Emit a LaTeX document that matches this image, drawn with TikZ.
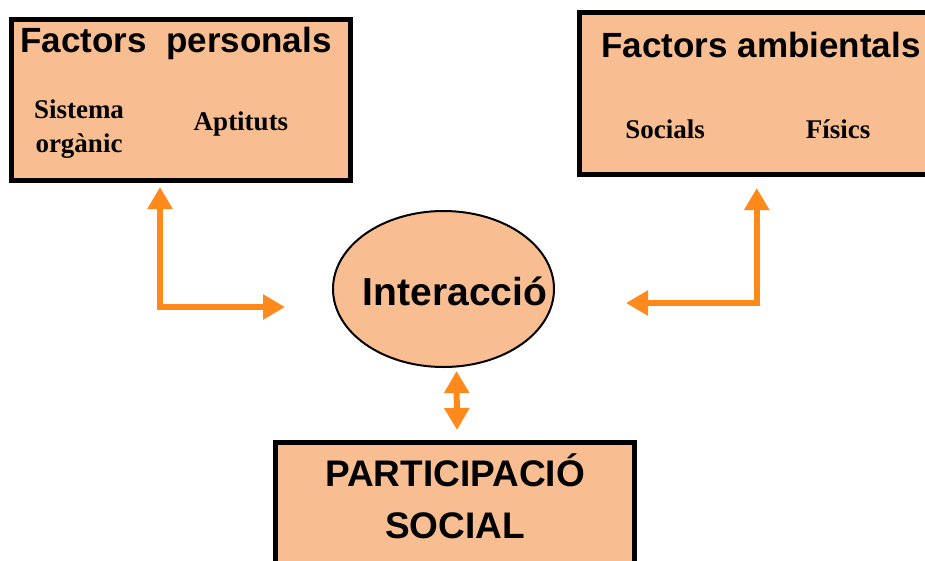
\documentclass[tikz,border=0pt]{standalone}
\usepackage{fontspec}
\setmainfont{Liberation Serif}
\setsansfont{Liberation Sans}
\usetikzlibrary{arrows.meta,shapes.geometric}
\definecolor{boxfill}{RGB}{248,190,146}
\definecolor{arroworange}{RGB}{255,137,26}
\tikzset{
  factorbox/.style={rectangle, draw=black, line width=5pt, fill=boxfill, inner sep=0pt},
  title/.style={font=\sffamily\bfseries\fontsize{35}{40}\selectfont},
  item/.style={font=\rmfamily\bfseries\fontsize{27}{34}\selectfont, align=center},
  dlink/.style={draw=arroworange, line width=6pt, {Triangle[width=24pt,length=22pt]}-{Triangle[width=24pt,length=22pt]}}
}
\begin{document}
\begin{tikzpicture}[x=1pt,y=-1pt]
        \useasboundingbox (0,0) rectangle (925,560);
        % caixes
        \node at (181,100) [factorbox, minimum width=339, minimum height=161] (pers) {};
        \node at (759.75,93.5) [factorbox, minimum width=360.5, minimum height=162] (amb) {};
        \node at (455,511.25) [factorbox, minimum width=359, minimum height=137.5] (part) {};
        \node at (443.5,289) [ellipse, draw=black, line width=2pt, fill=boxfill, minimum width=221, minimum height=156, inner sep=0pt] (inter) {};
        % textos
        \node at (176,43) [title] (perst) {Factors\ \ personals};
        \node at (79,129) [item] (sist) {Sistema\\orgànic};
        \node at (241,124) [item] (apt) {Aptituts};
        \node at (761,45) [title] (ambt) {Factors ambientals};
        \node at (665,129) [item] (soc) {Socials};
        \node at (838,129) [item] (fis) {Físics};
        \node at (455,291) [font=\sffamily\bfseries\fontsize{39}{40}\selectfont] (intert) {Interacció};
        \node at (455,496) [font=\sffamily\bfseries\fontsize{37}{52}\selectfont, align=center] (partt) {PARTICIPACIÓ\\SOCIAL};
        % fletxes
        \draw[dlink] ([xshift=-47pt,yshift=-18pt]inter.west) -| ([xshift=-21pt,yshift=-4pt]pers.south);
        \draw[dlink] ([xshift=71pt,yshift=-14pt]inter.east) -| ([xshift=-3pt,yshift=-11pt]amb.south);
        \draw[dlink] ([xshift=13pt,yshift=-3pt]inter.south) -- ([xshift=2pt,yshift=10pt]part.north);
      \end{tikzpicture}
\end{document}
